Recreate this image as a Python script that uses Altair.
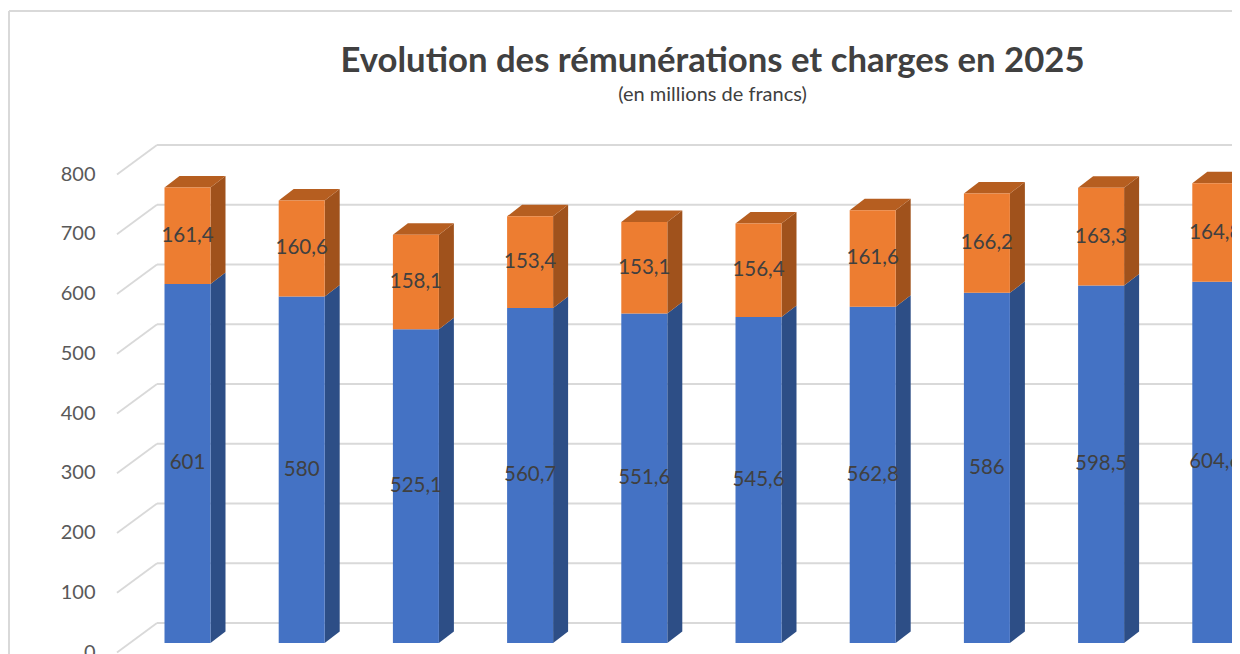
import altair as alt
import pandas as pd

# ---- data (millions de francs) ----
mois = ["janv.", "févr.", "mars", "avr.", "mai", "juin", "juil.", "août", "sept.", "oct."]
remunerations = [601, 580, 525.1, 560.7, 551.6, 545.6, 562.8, 586, 598.5, 604.6]
charges = [161.4, 160.6, 158.1, 153.4, 153.1, 156.4, 161.6, 166.2, 163.3, 164.8]
y_ticks = [0, 100, 200, 300, 400, 500, 600, 700, 800]

# ---- layout / style constants ----
W, H = 1223, 643
K = 0.5975          # px per unit on y
Y0PX = 632          # px position of value 0 inside plot
SPACING = 114.2     # px between bar centres
X0PX = 178.5        # px centre of first bar inside plot
y_dom = [-(H - Y0PX) / K, Y0PX / K]
x_dom = [-X0PX / SPACING, (W - X0PX) / SPACING]
HW = 23 / SPACING   # half front width
DX = 15 / SPACING   # depth (x)
DY = 11.5 / K       # depth (y)
X_FRONT = (108 - X0PX) / SPACING
X_BACK = (148 - X0PX) / SPACING

FONT = "Lato"
COLORS = {"Rémunérations": ("#4472C4", "#2D4E86"), "Charges": ("#ED7D31", "#A0521C")}
ORANGE_TOP = "#B65E20"
FRAME = "#D9D9D9"


def fmt(v):
    return f"{v:g}".replace(".", ",")


front, side, top = [], [], []
for i, (m, r, c) in enumerate(zip(mois, remunerations, charges)):
    segs = [("Rémunérations", 0, r, r), ("Charges", r, r + c, c)]
    for s, b, t, v in segs:
        front.append(dict(mois=m, serie=s, fill=COLORS[s][0], x0=i - HW, x1=i + HW,
                          b=b, t=t, xm=i, ym=(b + t) / 2, label=fmt(v)))
        gid = f"{i}-{s}"
        side.append(dict(gid=gid, fill=COLORS[s][1], x=i + HW, y=t, y2=b))
        side.append(dict(gid=gid, fill=COLORS[s][1], x=i + HW + DX, y=t + DY, y2=b + DY))
    T = r + c
    gid = f"{i}-top"
    top += [dict(gid=gid, x=i - HW, y=T, y2=T),
            dict(gid=gid, x=i - HW + DX, y=T + DY, y2=T),
            dict(gid=gid, x=i + HW, y=T + DY, y2=T),
            dict(gid=gid, x=i + HW + DX, y=T + DY, y2=T + DY)]

front_df = pd.DataFrame(front)
side_df = pd.DataFrame(side)
top_df = pd.DataFrame(top)
grid_df = pd.DataFrame(dict(v=y_ticks, xf=X_FRONT, xb=X_BACK, xe=x_dom[1]))

xs = alt.Scale(domain=x_dom, nice=False, zero=False)
ys = alt.Scale(domain=y_dom, nice=False, zero=False)

# chart frame (top and left edges; right/bottom lie outside the window)
frame_top = alt.Chart(grid_df).mark_rule(color=FRAME, strokeWidth=1.5).encode(
    x=alt.value(0), x2=alt.value(W), y=alt.value(0))
frame_left = alt.Chart(grid_df).mark_rule(color=FRAME, strokeWidth=1.5).encode(
    x=alt.value(0), y=alt.value(0), y2=alt.value(H))

grid_back = alt.Chart(grid_df).mark_rule(color="#D9D9D9", strokeWidth=1.8, yOffset=-20).encode(
    x=alt.X("xb:Q", scale=xs, axis=None), x2="xe:Q",
    y=alt.Y("v:Q", scale=ys,
            axis=alt.Axis(values=y_ticks, grid=False, domain=False, ticks=False,
                          labelPadding=0, offset=-86, labelOffset=9,
                          labelFont=FONT, labelFontSize=20, labelColor="#595959",
                          title=None)))

grid_diag = alt.Chart(grid_df).mark_rule(color="#D9D9D9", strokeWidth=1.8,
                                         yOffset=9.5, y2Offset=-20).encode(
    x=alt.X("xf:Q", scale=xs), x2="xb:Q",
    y=alt.Y("v:Q", scale=ys), y2="v:Q")

sides = alt.Chart(side_df).mark_area(orient="vertical").encode(
    x=alt.X("x:Q", scale=xs),
    y=alt.Y("y:Q", scale=ys, stack=None), y2="y2:Q",
    color=alt.Color("fill:N", scale=None),
    detail="gid:N")

tops = alt.Chart(top_df).mark_area(orient="vertical", color=ORANGE_TOP).encode(
    x=alt.X("x:Q", scale=xs),
    y=alt.Y("y:Q", scale=ys, stack=None), y2="y2:Q",
    detail="gid:N")

fronts = alt.Chart(front_df).mark_rect().encode(
    x=alt.X("x0:Q", scale=xs), x2="x1:Q",
    y=alt.Y("b:Q", scale=ys), y2="t:Q",
    color=alt.Color("fill:N", scale=None))

labels = alt.Chart(front_df).mark_text(font=FONT, fontSize=20.5, color="#404040",
                                       baseline="middle", align="center").encode(
    x=alt.X("xm:Q", scale=xs), y=alt.Y("ym:Q", scale=ys), text="label:N")

chart = alt.layer(frame_top, frame_left, grid_back, grid_diag, sides, tops, fronts,
                  labels).properties(
    width=W, height=H,
    autosize=alt.AutoSizeParams(type="none"),
    padding={"left": 1, "top": 3, "right": 0, "bottom": 0},
    title=alt.TitleParams(
        text="Evolution des rémunérations et charges en 2025",
        subtitle="(en millions de francs)",
        anchor="middle", frame="group", offset=-96, dx=92,
        font=FONT, fontSize=34.7, fontWeight="bold", color="#404040",
        subtitleFont=FONT, subtitleFontSize=20, subtitleColor="#404040",
        subtitlePadding=6),
).configure_view(strokeWidth=0, fill="white"
).configure(background="white")

chart.save("out.html", embed_options={"renderer": "svg", "actions": False})
